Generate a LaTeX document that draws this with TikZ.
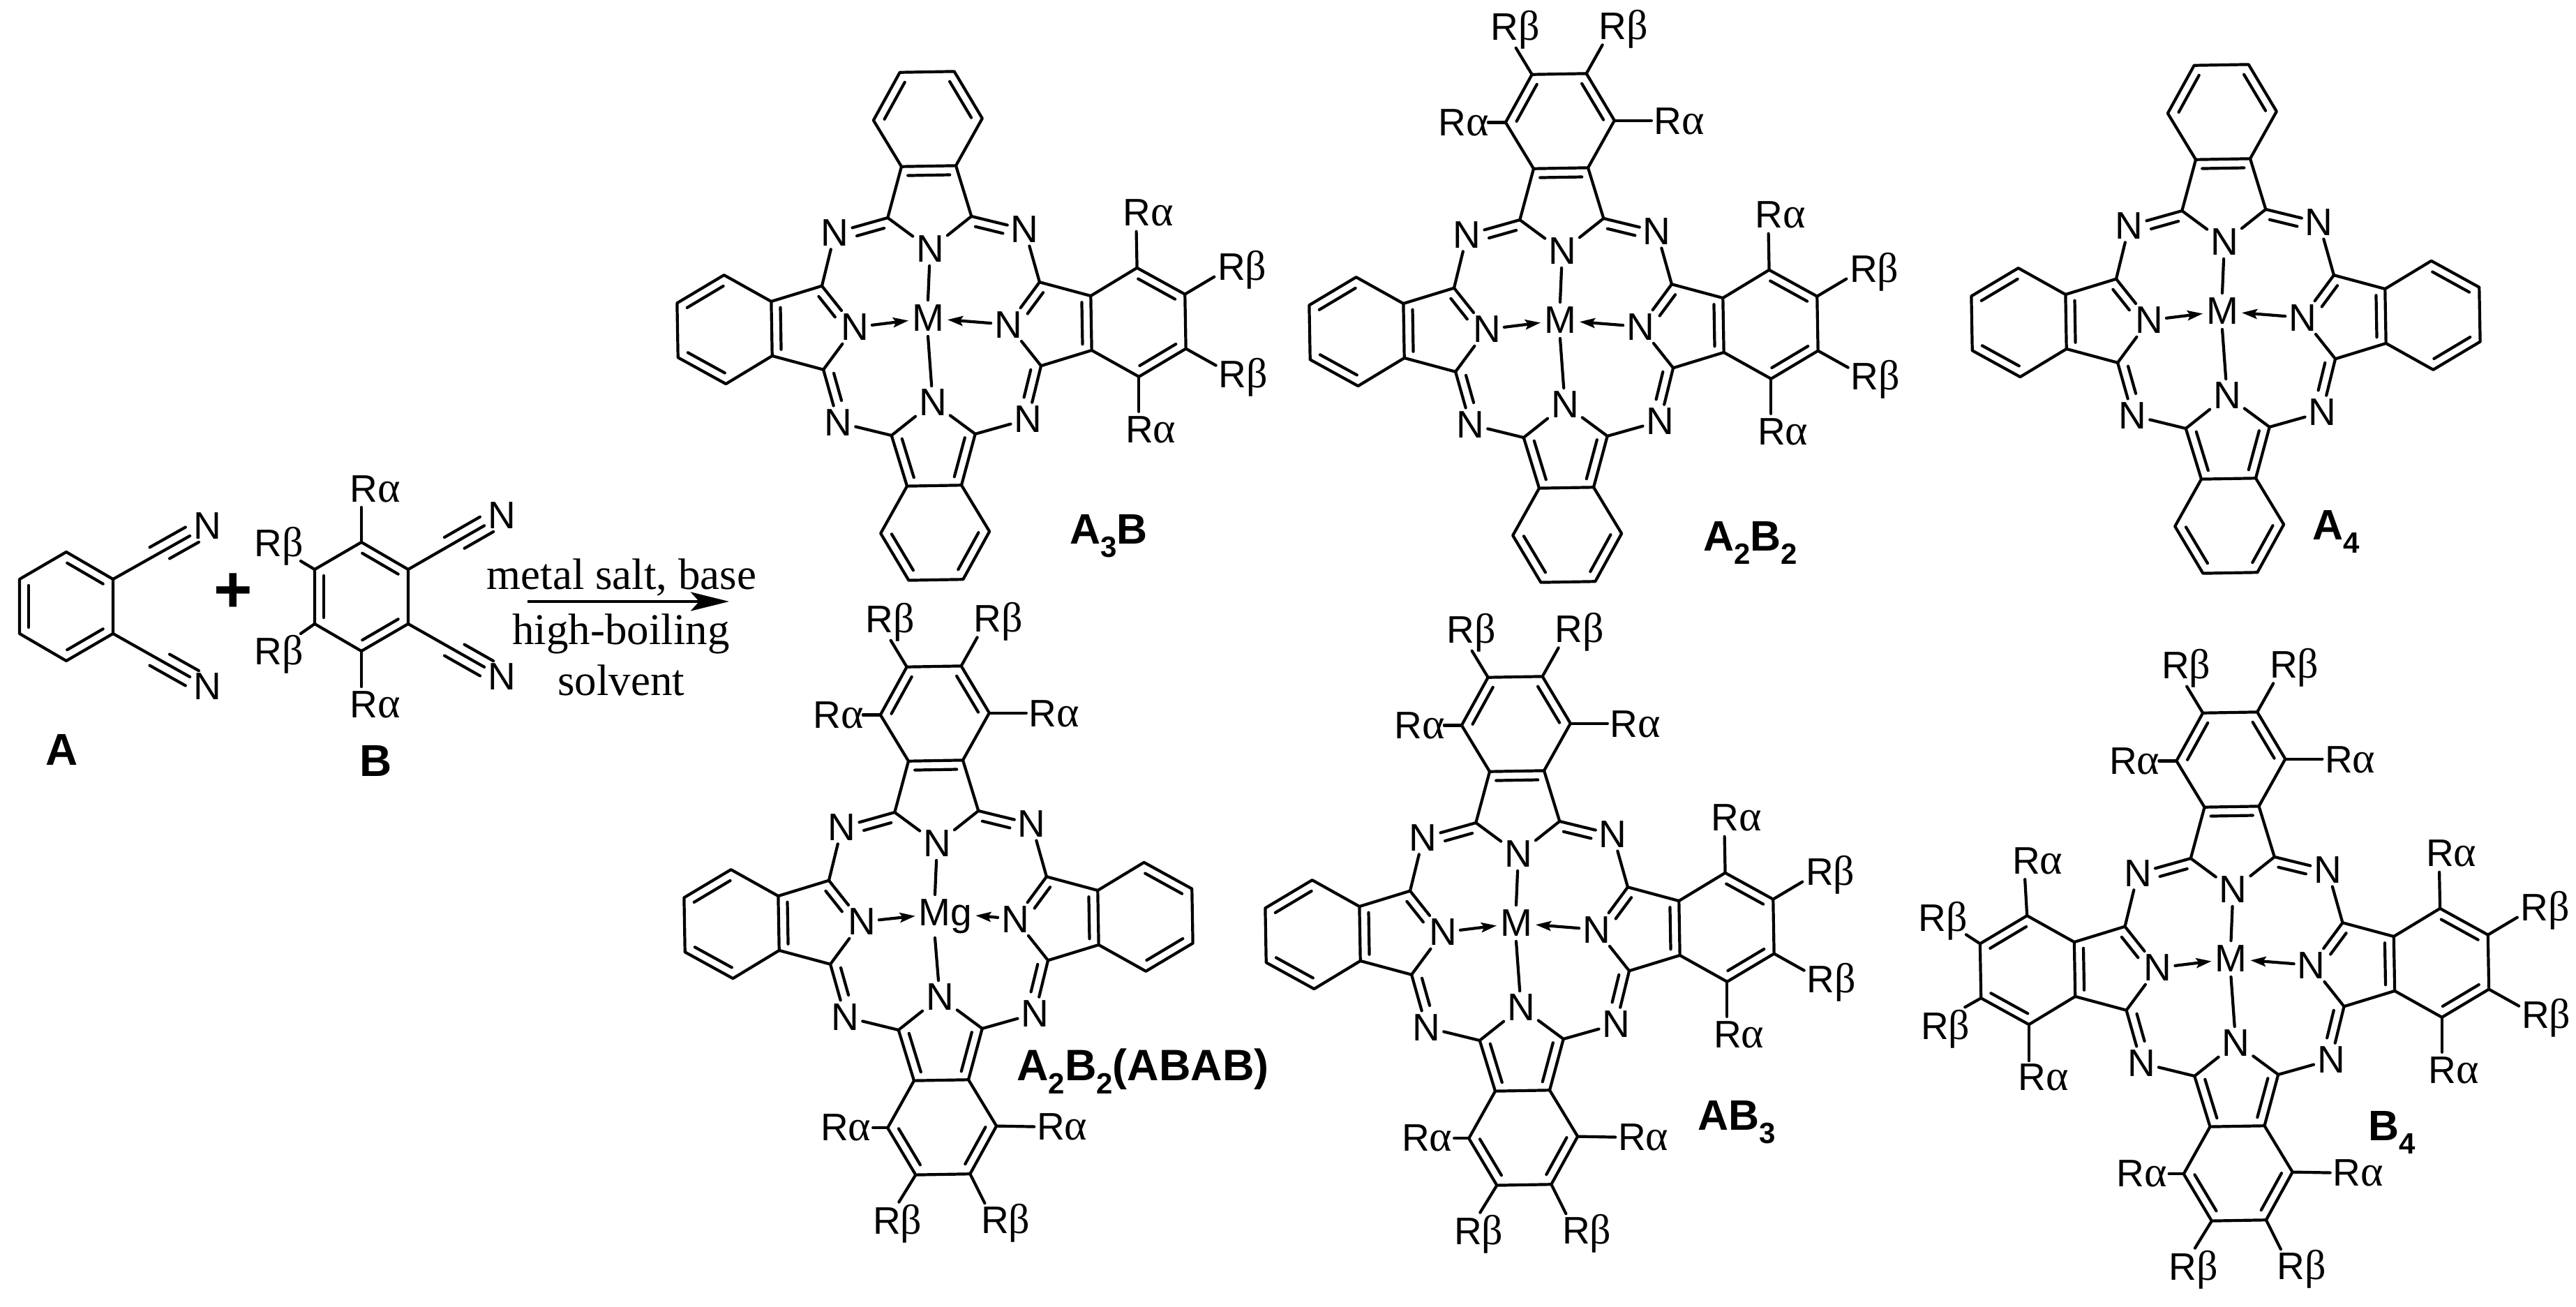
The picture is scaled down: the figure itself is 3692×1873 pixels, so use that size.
\documentclass[tikz,border=0pt]{standalone}
\usepackage{fontspec}
\setmainfont{Liberation Sans}
\newfontfamily\timesf{Liberation Serif}
\usetikzlibrary{calc,arrows.meta}
\tikzset{
  bond/.style={line width=4.2pt,line cap=round,line join=round},
  atom/.style={font=\fontsize{55}{55}\selectfont,inner sep=5pt,outer sep=0pt},
  sublab/.style={font=\fontsize{55}{55}\selectfont,inner sep=0pt,outer sep=0pt,anchor=base},
  comp/.style={font=\fontsize{61}{61}\selectfont\bfseries,inner sep=0pt,anchor=base west},
  reag/.style={font=\fontsize{64}{64}\selectfont\bfseries,inner sep=0pt,anchor=base west},
  wide/.style={font=\fontsize{63}{63}\selectfont\bfseries,inner sep=0pt,anchor=base west},
  cond/.style={font=\timesf\fontsize{63}{63}\selectfont,inner sep=0pt,anchor=base},
  coordarrow/.style={line width=4.6pt,-{Stealth[length=55pt,width=27pt,inset=12pt]}},
  darrow/.style={bond,-{Stealth[length=22pt,width=14pt,inset=4pt]}},
}
\newcommand\Ra{R{\timesf\fontsize{62}{62}\selectfont α}}
\newcommand\Rb{R{\timesf\fontsize{60}{60}\selectfont β}}
\newcommand\sbt[1]{\raisebox{-19pt}{\fontsize{42}{42}\selectfont #1}}
% inner line of a double bond, on the right of A->B
\newcommand\inbond[2]{\draw[bond,shorten <=9pt,shorten >=9pt] ($(#1)!13pt!-90:(#2)$) -- ($(#2)!13pt!90:(#1)$);}
% double bond C=N: main line + inner line, side angles #3 and #4
\newcommand\dblN[4]{\draw[bond] (#1) -- (#2);
  \draw[bond,shorten <=9pt,shorten >=29pt] ($(#1)!13pt!#3:(#2)$) -- ($(#2)!13pt!#4:(#1)$);}
% one isoindole arm
\newcommand\Parm[2]{%
  \begin{scope}[rotate=#2]
    \coordinate (#1-CL) at (-60,-156);
    \coordinate (#1-CR) at (60,-156);
    \coordinate (#1-FL) at (-39,-229);
    \coordinate (#1-FR) at (39,-229);
    \coordinate (#1-B1) at (-78,-296);
    \coordinate (#1-B2) at (-39,-364);
    \coordinate (#1-B3) at (39,-364);
    \coordinate (#1-B4) at (78,-296);
    \node[atom] (#1-N) at (0,-110) {N};
  \end{scope}
  \draw[bond] (#1-FL) -- (#1-B1) -- (#1-B2) -- (#1-B3) -- (#1-B4) -- (#1-FR) -- cycle;
  \draw[bond] (#1-FL) -- (#1-CL);
  \draw[bond] (#1-FR) -- (#1-CR);
  \inbond{#1-B1}{#1-B2}
  \inbond{#1-B3}{#1-B4}
}
% #1 name, #2 x, #3 y, #4 metal text, #5 text shift, #6 lower gap
\newcommand\Pc[6]{%
  \begin{scope}[shift={(#2,#3)}]
    \node[atom,text depth=0pt] (#1-M) at (#5,0) {#4};
    \coordinate (#1-Mu) at (0,-26);
    \coordinate (#1-Md) at (0,#6);
    \begin{scope}[shift={(5,11)},rotate=1]
      \Parm{#1-t}{0}
      \Parm{#1-l}{90}
      \Parm{#1-b}{180}
      \Parm{#1-r}{-90}
      \node[atom] (#1-TL) at (-136,-136) {N};
      \node[atom] (#1-TR) at (136,-136) {N};
      \node[atom] (#1-BL) at (-136,136) {N};
      \node[atom] (#1-BR) at (136,136) {N};
    \end{scope}
  \end{scope}
  \inbond{#1-t-FL}{#1-t-FR}
  \inbond{#1-l-FL}{#1-l-FR}
  \inbond{#1-r-FL}{#1-r-FR}
  \inbond{#1-b-CL}{#1-b-FL}
  \inbond{#1-b-FR}{#1-b-CR}
  \draw[bond] (#1-t-CL) -- (#1-t-N);
  \draw[bond] (#1-t-CR) -- (#1-t-N);
  \draw[bond] (#1-b-CL) -- (#1-b-N);
  \draw[bond] (#1-b-CR) -- (#1-b-N);
  \draw[bond] (#1-l-CL) -- (#1-l-N);
  \dblN{#1-l-CR}{#1-l-N}{-90}{90}
  \draw[bond] (#1-r-CR) -- (#1-r-N);
  \dblN{#1-r-CL}{#1-r-N}{90}{-90}
  \dblN{#1-t-CL}{#1-TL}{90}{-90}
  \dblN{#1-t-CR}{#1-TR}{-90}{90}
  \dblN{#1-l-CL}{#1-BL}{90}{-90}
  \dblN{#1-r-CR}{#1-BR}{-90}{90}
  \draw[bond] (#1-TL) -- (#1-l-CR);
  \draw[bond] (#1-TR) -- (#1-r-CL);
  \draw[bond] (#1-BL) -- (#1-b-CR);
  \draw[bond] (#1-BR) -- (#1-b-CL);
  \draw[bond] (#1-t-N) -- (#1-Mu);
  \draw[bond] (#1-Md) -- (#1-b-N);
  \draw[darrow] (#1-l-N) -- (#1-M);
  \draw[darrow] (#1-r-N) -- (#1-M);
}
% substituent: vertex, bond end offset, text offset, text
\newcommand\Rsub[4]{%
  \draw[bond] (#1) -- ($(#1)+(#2)$);
  \node[sublab] (#1-R) at ($(#1)+(#3)$) {#4};}
\newcommand\subT[1]{%
  \Rsub{#1-t-B1}{-25,0}{-60,19}{\Ra}
  \Rsub{#1-t-B2}{-23,-38}{-24,-49}{\Rb}
  \Rsub{#1-t-B3}{23,-41}{53,-49}{\Rb}
  \Rsub{#1-t-B4}{53,0}{93,20}{\Ra}}
\newcommand\subR[1]{%
  \Rsub{#1-r-B1}{-1,-52}{16,-60}{\Ra}
  \Rsub{#1-r-B2}{42,-25}{82,-20}{\Rb}
  \Rsub{#1-r-B3}{43,24}{82,56}{\Rb}
  \Rsub{#1-r-B4}{0,50}{17,95}{\Ra}}
\newcommand\subB[1]{%
  \Rsub{#1-b-B4}{-21,0}{-60,18}{\Ra}
  \Rsub{#1-b-B3}{-24,39}{-26,85}{\Rb}
  \Rsub{#1-b-B2}{21,42}{51,85}{\Rb}
  \Rsub{#1-b-B1}{54,1}{94,20}{\Ra}}
\newcommand\subL[1]{%
  \Rsub{#1-l-B4}{-3,-52}{15,-60}{\Ra}
  \Rsub{#1-l-B3}{-20,-13}{-53,-18}{\Rb}
  \Rsub{#1-l-B2}{-23,13}{-51,59}{\Rb}
  \Rsub{#1-l-B1}{0,52}{21,94}{\Ra}}
% nitrile: C, N, long-side angle, short-side angle
\newcommand\nitrile[4]{%
  \draw[bond] (#1) -- (#2);
  \draw[bond] ($(#1)!.44!(#2)!14pt!#3:(#2)$) -- ($(#1)!.82!(#2)!14pt!#3:(#2)$);
  \draw[bond] ($(#1)!.55!(#2)!14pt!#4:(#2)$) -- ($(#1)!.86!(#2)!14pt!#4:(#2)$);}
% benzene ring: name, centre x, centre y
\newcommand\Benz[3]{%
  \begin{scope}[shift={(#2,#3)}]
    \coordinate (#1-1) at (0,-78);
    \coordinate (#1-2) at (67,-39);
    \coordinate (#1-3) at (67,39);
    \coordinate (#1-4) at (0,78);
    \coordinate (#1-5) at (-67,39);
    \coordinate (#1-6) at (-67,-39);
  \end{scope}
  \draw[bond] (#1-1) -- (#1-2) -- (#1-3) -- (#1-4) -- (#1-5) -- (#1-6) -- cycle;
  \inbond{#1-1}{#1-2}
  \inbond{#1-3}{#1-4}
  \inbond{#1-5}{#1-6}
}
\begin{document}
\begin{tikzpicture}[x=1pt,y=-1pt]
\useasboundingbox (0,0) rectangle (3692,1873);
\fill[white] (0,0) rectangle (3692,1873);
% reagent A
\Benz{ra}{95}{869}
\node[atom] (ra-Nt) at (297,754) {N};
\node[atom] (ra-Nb) at (297,984) {N};
\nitrile{ra-2}{ra-Nt}{90}{-90}
\nitrile{ra-3}{ra-Nb}{-90}{90}
\node[reag] (la) at (65,1096) {A};
% plus
\node[font=\fontsize{95}{95}\selectfont\bfseries,inner sep=0pt] (plus) at (334,850) {+};
% reagent B
\Benz{rb}{518}{855}
\node[atom] (rb-Nt) at (719,739) {N};
\node[atom] (rb-Nb) at (719,970) {N};
\nitrile{rb-2}{rb-Nt}{90}{-90}
\nitrile{rb-3}{rb-Nb}{-90}{90}
\Rsub{rb-1}{0,-50}{20,-58}{\Ra}
\Rsub{rb-4}{0,51}{20,95}{\Ra}
\Rsub{rb-6}{-20,-12}{-51,-19}{\Rb}
\Rsub{rb-5}{-20,14}{-51,58}{\Rb}
\node[reag] (lb) at (515,1112) {B};
% reaction arrow
\coordinate (ar0) at (756,862);
\coordinate (ar1) at (1045,862);
\draw[coordarrow] (ar0) -- (ar1);
\node[cond] (c1) at (891,844) {metal salt, base};
\node[cond] (c2) at (890,923) {high-boiling};
\node[cond] (c3) at (890,996) {solvent};
% phthalocyanines
\Pc{p1}{1330}{456}{M}{0}{26}
\subR{p1}
\node[comp] (l1) at (1533,779) {A\sbt{3}B};
\Pc{p2}{2236}{459}{M}{0}{26}
\subT{p2}\subR{p2}
\node[comp] (l2) at (2441,789) {A\sbt{2}B\sbt{2}};
\Pc{p3}{3185}{446}{M}{0}{26}
\node[comp] (l3) at (3314,773) {A\sbt{4}};
\Pc{p4}{1340}{1308}{Mg}{15}{36}
\subT{p4}\subB{p4}
\node[wide] (l4) at (1457,1548) {A\sbt{2}B\sbt{2}(ABAB)};
\Pc{p5}{2173}{1323}{M}{0}{26}
\subT{p5}\subR{p5}\subB{p5}
\node[comp] (l5) at (2433,1619) {AB\sbt{3}};
\Pc{p6}{3197.5}{1374}{M}{0}{26}
\subT{p6}\subR{p6}\subB{p6}\subL{p6}
\node[comp] (l6) at (3394,1634) {B\sbt{4}};
\end{tikzpicture}
\end{document}
